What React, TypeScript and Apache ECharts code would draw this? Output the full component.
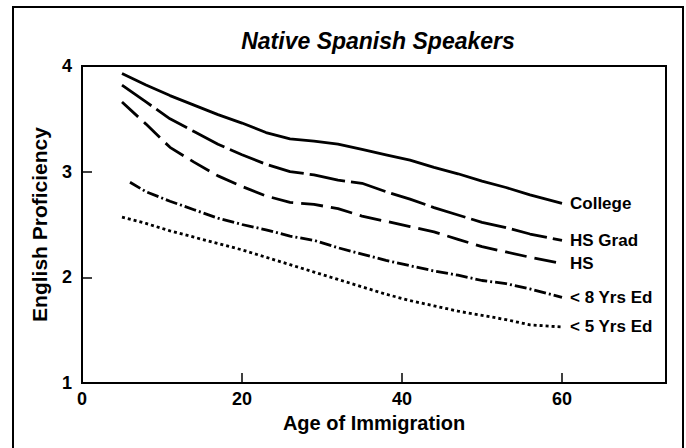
import React, { useEffect, useRef } from "react";
import * as echarts from "echarts";

const ages = [5, 8, 11, 14, 17, 20, 23, 26, 29, 32, 35, 38, 41, 44, 47, 50, 53, 56, 60];
const eightAges = [6, 8, 11, 14, 17, 20, 23, 26, 29, 32, 35, 38, 41, 44, 47, 50, 53, 56, 60];

const college = [3.93, 3.82, 3.72, 3.63, 3.54, 3.46, 3.37, 3.31, 3.29, 3.26, 3.21, 3.16, 3.11, 3.04, 2.98, 2.91, 2.85, 2.78, 2.7];
const hsGrad = [3.82, 3.66, 3.5, 3.38, 3.26, 3.16, 3.07, 3.0, 2.97, 2.92, 2.89, 2.81, 2.74, 2.66, 2.59, 2.52, 2.47, 2.41, 2.35];
const hs = [3.66, 3.45, 3.23, 3.09, 2.96, 2.86, 2.77, 2.71, 2.69, 2.65, 2.58, 2.53, 2.48, 2.43, 2.36, 2.29, 2.24, 2.19, 2.13];
const lt8 = [2.9, 2.81, 2.72, 2.64, 2.56, 2.5, 2.45, 2.39, 2.35, 2.28, 2.22, 2.16, 2.11, 2.06, 2.02, 1.97, 1.94, 1.89, 1.81];
const lt5 = [2.57, 2.51, 2.44, 2.38, 2.32, 2.26, 2.19, 2.12, 2.05, 1.98, 1.91, 1.84, 1.78, 1.73, 1.68, 1.64, 1.6, 1.55, 1.53];

const seriesNames = ["College", "HS Grad", "HS", "< 8 Yrs Ed", "< 5 Yrs Ed"];
const xTicks = [0, 20, 40, 60];
const yTicks = [1, 2, 3, 4];

const FONT = "'Liberation Sans', Arial, Helvetica, sans-serif";

export default function App() {
  const ref = useRef<HTMLDivElement>(null);
  useEffect(() => {
    document.body.style.margin = "0";
    const chart = echarts.init(ref.current!, null, { renderer: "svg" });
    const pair = (xs: number[], ys: number[]) => xs.map((x, i) => [x, ys[i]]);
    const dashes: any[] = ["solid", [36, 6], [22, 8], [12, 3, 2, 3], [3, 3]];
    const datasets = [
      pair(ages, college),
      pair(ages, hsGrad),
      pair(ages, hs),
      pair(eightAges, lt8),
      pair(ages, lt5),
    ];
    chart.setOption({
      animation: false,
      backgroundColor: "#ffffff",
      textStyle: { fontFamily: FONT },
      title: {
        text: "Native Spanish Speakers",
        left: 373,
        top: 24,
        textAlign: "center",
        textStyle: { fontFamily: FONT, fontSize: 23, fontWeight: "bold", fontStyle: "italic", color: "#000" },
      },
      graphic: [
        {
          type: "rect",
          shape: { x: 13, y: 7, width: 670, height: 470 },
          style: { fill: "none", stroke: "#000", lineWidth: 2 },
          silent: true,
        },
      ],
      grid: {
        left: 82,
        right: 20,
        top: 66,
        bottom: 65,
        show: true,
        borderColor: "#000",
        borderWidth: 2,
        backgroundColor: "transparent",
      },
      xAxis: {
        type: "value",
        min: 0,
        max: 73,
        interval: 20,
        name: "Age of Immigration",
        nameLocation: "middle",
        nameGap: 28,
        nameTextStyle: { fontFamily: FONT, fontSize: 20, fontWeight: "bold", color: "#000" },
        axisLine: { show: true, lineStyle: { color: "#000", width: 2 } },
        axisTick: { show: true, inside: true, length: 10, lineStyle: { color: "#000", width: 1.5 } },
        axisLabel: {
          showMaxLabel: false,
          margin: 7,
          fontFamily: FONT,
          fontSize: 18,
          fontWeight: "bold",
          color: "#000",
          formatter: (v: number) => (xTicks.includes(v) ? String(v) : ""),
        },
        splitLine: { show: false },
      },
      yAxis: {
        type: "value",
        min: 1,
        max: 4,
        interval: 1,
        name: "English Proficiency",
        nameLocation: "middle",
        nameGap: 32,
        nameRotate: 90,
        nameTextStyle: { fontFamily: FONT, fontSize: 21, fontWeight: "bold", color: "#000" },
        axisLine: { show: true, lineStyle: { color: "#000", width: 2 } },
        axisTick: { show: true, inside: true, length: 10, lineStyle: { color: "#000", width: 1.5 } },
        axisLabel: {
          margin: 10,
          fontFamily: FONT,
          fontSize: 18,
          fontWeight: "bold",
          color: "#000",
          formatter: (v: number) => (yTicks.includes(v) ? String(v) : ""),
        },
        splitLine: { show: false },
      },
      series: seriesNames.map((name, i) => ({
        name,
        type: "line",
        data: datasets[i],
        showSymbol: false,
        symbol: "none",
        smooth: false,
        lineStyle: { color: "#000", width: 2.8, type: dashes[i] },
        endLabel: {
          show: true,
          formatter: "{a}",
          distance: 8,
          fontFamily: FONT,
          fontSize: 17,
          fontWeight: "bold",
          color: "#000",
        },
      })),
    });
    return () => chart.dispose();
  }, []);
  return (
    <div
      ref={ref}
      style={{ position: "absolute", left: 0, top: 0, width: 686, height: 448 }}
    />
  );
}
